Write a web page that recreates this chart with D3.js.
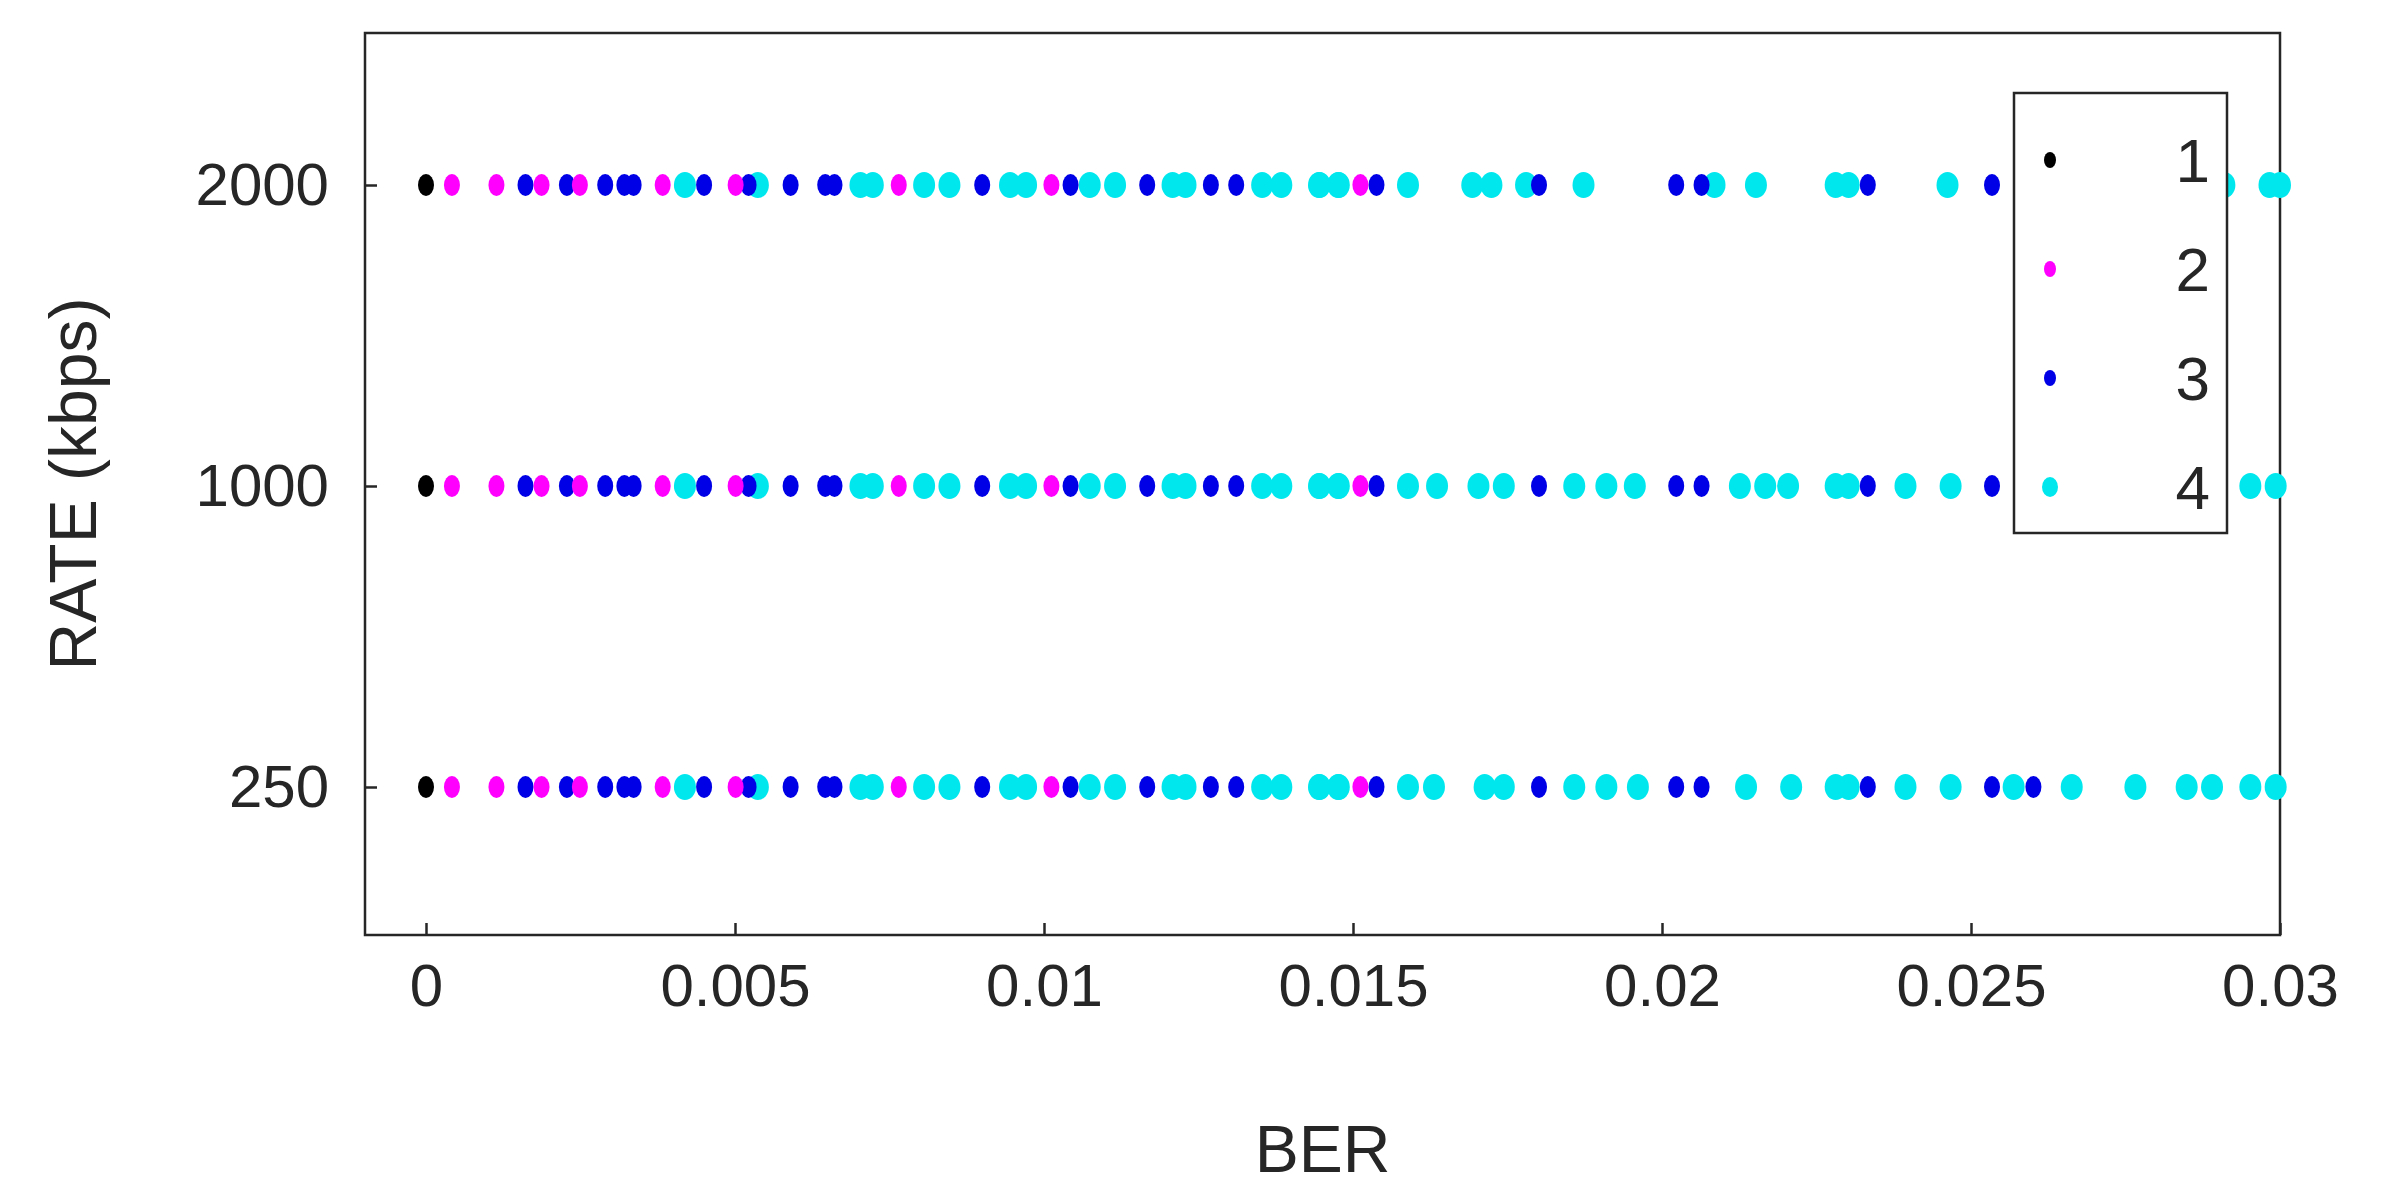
<!DOCTYPE html>
<html lang="en">
<head>
<meta charset="UTF-8">
<title>RATE vs BER</title>
<script src="https://d3js.org/d3.v7.min.js"></script>
<style>
  body { margin: 0; background: #fff; overflow: hidden; }
  svg { display: block; }
  text { font-family: "Liberation Sans", Arial, sans-serif; fill: #262626; }
</style>
</head>
<body>
<svg id="chart"></svg>
<script>
  // rate rows (categorical) and tick labels
  var rates = ["2000", "1000", "250"];
  var xTicks = [0, 0.005, 0.01, 0.015, 0.02, 0.025, 0.03];
  var xTickLabels = ["0", "0.005", "0.01", "0.015", "0.02", "0.025", "0.03"];
  var seriesNames = ["1", "2", "3", "4"];
  var seriesColors = ["#000000", "#ff00ff", "#0000e6", "#00e8ee"];

  // BER values common to all rows (below ~0.0144)
  var s1 = [0];
  var s2 = [0.00042, 0.00114, 0.00187, 0.00249, 0.00383, 0.00501, 0.00765, 0.01012, 0.01512];
  var s3 = [0.00161, 0.00228, 0.0029, 0.00321, 0.00336, 0.0045, 0.00522, 0.0059, 0.00646, 0.00661,
            0.009, 0.01043, 0.01167, 0.0127, 0.01311, 0.01538];
  var s4 = [0.00419, 0.00537, 0.00703, 0.00723, 0.00806, 0.00847, 0.00945, 0.00971, 0.01074, 0.01115,
            0.01208, 0.01229, 0.01353, 0.01384, 0.01446, 0.01477];

  // per-row tails (BER > 0.0144)
  var s3Tail2000 = [0.01801, 0.02023, 0.02064, 0.02333, 0.02534];
  var s4Tail2000 = [0.01445, 0.01476, 0.01589, 0.01693, 0.01724, 0.0178, 0.01873, 0.02085, 0.02152,
                    0.02281, 0.02302, 0.02462, 0.0291, 0.02983, 0.03];
  var s3Tail1000 = [0.01801, 0.02023, 0.02064, 0.02333, 0.02534];
  var s4Tail1000 = [0.01445, 0.01476, 0.01589, 0.01636, 0.01703, 0.01744, 0.01858, 0.0191, 0.01956,
                    0.02126, 0.02167, 0.02204, 0.02281, 0.02302, 0.02394, 0.02467, 0.0284, 0.0288,
                    0.02952, 0.02993];
  var s3Tail250 = [0.01801, 0.02023, 0.02064, 0.02333, 0.02534, 0.02601];
  var s4Tail250 = [0.01445, 0.01476, 0.01589, 0.01631, 0.01713, 0.01744, 0.01858, 0.0191, 0.01961,
                   0.02136, 0.02209, 0.02281, 0.02302, 0.02394, 0.02467, 0.02569, 0.02663, 0.02766,
                   0.02849, 0.0289, 0.02952, 0.02993];

  var tails3 = { "2000": s3Tail2000, "1000": s3Tail1000, "250": s3Tail250 };
  var tails4 = { "2000": s4Tail2000, "1000": s4Tail1000, "250": s4Tail250 };

  var points = [];
  rates.forEach(function(r) {
    s1.forEach(function(v) { points.push({ s: 0, ber: v, rate: r }); });
    s2.forEach(function(v) { points.push({ s: 1, ber: v, rate: r }); });
    s3.concat(tails3[r]).forEach(function(v) { points.push({ s: 2, ber: v, rate: r }); });
    s4.concat(tails4[r]).forEach(function(v) { points.push({ s: 3, ber: v, rate: r }); });
  });
  // cyan underneath, black on top
  points.sort(function(a, b) { return b.s - a.s; });

  var W = 2383, H = 1196;
  var boxL = 365, boxR = 2280, boxT = 33, boxB = 935;

  var svg = d3.select("#chart").attr("width", W).attr("height", H);

  var x = d3.scaleLinear().domain([-0.000987, 0.03]).range([boxL, boxR]);
  var y = d3.scalePoint().domain(rates).range([185, 787]);

  // box
  svg.append("rect").attr("x", boxL).attr("y", boxT)
     .attr("width", boxR - boxL).attr("height", boxB - boxT)
     .attr("fill", "none").attr("stroke", "#262626").attr("stroke-width", 2.5);

  // x axis (ticks inward)
  var xAxis = svg.append("g").attr("transform", "translate(0," + boxB + ")")
     .call(d3.axisBottom(x).tickValues(xTicks).tickSize(-12).tickPadding(28)
       .tickFormat(function(d, i) { return xTickLabels[i]; }));
  xAxis.select(".domain").remove();
  xAxis.selectAll("line").attr("stroke", "#262626").attr("stroke-width", 2.5);
  xAxis.selectAll("text").attr("font-size", 60).attr("fill", "#262626")
     .attr("font-family", "Liberation Sans, Arial, sans-serif");

  var yAxis = svg.append("g").attr("transform", "translate(" + boxL + ",0)")
     .call(d3.axisLeft(y).tickSize(-12).tickPadding(36));
  yAxis.select(".domain").remove();
  yAxis.selectAll("line").attr("stroke", "#262626").attr("stroke-width", 2.5);
  yAxis.selectAll("text").attr("font-size", 60).attr("fill", "#262626")
     .attr("font-family", "Liberation Sans, Arial, sans-serif");

  // axis titles
  svg.append("text").attr("x", (boxL + boxR) / 2).attr("y", 1172)
     .attr("text-anchor", "middle").attr("font-size", 66).text("BER");
  svg.append("text").attr("transform", "translate(96," + (boxT + boxB) / 2 + ") rotate(-90)")
     .attr("text-anchor", "middle").attr("font-size", 66).text("RATE (kbps)");

  // markers
  svg.selectAll(".dot").data(points).enter().append("ellipse")
     .attr("class", "dot")
     .attr("cx", function(d) { return x(d.ber); })
     .attr("cy", function(d) { return y(d.rate); })
     .attr("rx", function(d) { return d.s === 3 ? 11 : 8; })
     .attr("ry", function(d) { return d.s === 3 ? 13 : 11; })
     .attr("fill", function(d) { return seriesColors[d.s]; });

  // legend
  var lg = svg.append("g");
  lg.append("rect").attr("x", 2014).attr("y", 93).attr("width", 213).attr("height", 440)
     .attr("fill", "#fff").attr("stroke", "#262626").attr("stroke-width", 2.5);
  seriesNames.forEach(function(n, i) {
    var cy = 160 + i * 109;
    lg.append("ellipse").attr("cx", 2050).attr("cy", cy)
      .attr("rx", i === 3 ? 8 : 6).attr("ry", i === 3 ? 10 : 8)
      .attr("fill", seriesColors[i]);
    lg.append("text").attr("x", 2210).attr("y", cy + 22).attr("text-anchor", "end")
      .attr("font-size", 62).text(n);
  });
</script>
</body>
</html>
